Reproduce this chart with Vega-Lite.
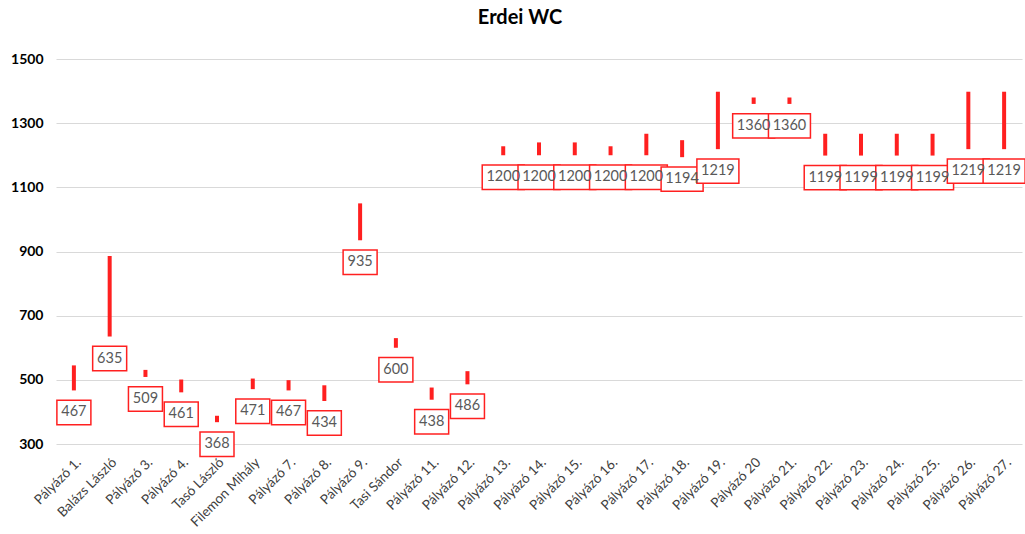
{
  "$schema": "https://vega.github.io/schema/vega-lite/v6.json",
  "autosize": "none",
  "width": 966,
  "height": 385,
  "padding": {"left": 56, "top": 59, "right": 3, "bottom": 90},
  "background": "white",
  "title": {"text": "Erdei WC", "fontSize": 20, "font": "Lato", "fontWeight": "bold", "color": "#000000", "anchor": "middle", "dx": -19, "offset": 24},
  "data": {"values": [
    {"name": "Pályázó 1.", "low": 467, "high": 545},
    {"name": "Balázs László", "low": 635, "high": 886},
    {"name": "Pályázó 3.", "low": 509, "high": 531},
    {"name": "Pályázó 4.", "low": 461, "high": 501},
    {"name": "Tasó László", "low": 368, "high": 388},
    {"name": "Filemon Mihály", "low": 471, "high": 504},
    {"name": "Pályázó 7.", "low": 467, "high": 499},
    {"name": "Pályázó 8.", "low": 434, "high": 483},
    {"name": "Pályázó 9.", "low": 935, "high": 1050},
    {"name": "Tasi Sándor", "low": 600, "high": 630},
    {"name": "Pályázó 11.", "low": 438, "high": 476},
    {"name": "Pályázó 12.", "low": 486, "high": 527},
    {"name": "Pályázó 13.", "low": 1200, "high": 1228},
    {"name": "Pályázó 14.", "low": 1200, "high": 1240},
    {"name": "Pályázó 15.", "low": 1200, "high": 1240},
    {"name": "Pályázó 16.", "low": 1200, "high": 1228},
    {"name": "Pályázó 17.", "low": 1200, "high": 1267},
    {"name": "Pályázó 18.", "low": 1194, "high": 1247},
    {"name": "Pályázó 19.", "low": 1219, "high": 1398},
    {"name": "Pályázó 20", "low": 1360, "high": 1380},
    {"name": "Pályázó 21.", "low": 1360, "high": 1380},
    {"name": "Pályázó 22.", "low": 1199, "high": 1267},
    {"name": "Pályázó 23.", "low": 1199, "high": 1267},
    {"name": "Pályázó 24.", "low": 1199, "high": 1267},
    {"name": "Pályázó 25.", "low": 1199, "high": 1267},
    {"name": "Pályázó 26.", "low": 1219, "high": 1398},
    {"name": "Pályázó 27.", "low": 1219, "high": 1398}
  ]},
  "encoding": {
    "x": {
      "field": "name", "type": "nominal", "sort": null,
      "axis": {"title": null, "labelAngle": -45, "labelFontSize": 13.5, "labelFont": "Lato", "labelColor": "#404040", "ticks": false, "domain": false, "labelPadding": 11}
    }
  },
  "layer": [
    {
      "mark": {"type": "rule", "color": "#ff2020", "strokeWidth": 4},
      "encoding": {
        "y": {
          "field": "low", "type": "quantitative",
          "scale": {"domain": [300, 1500], "nice": false, "zero": false},
          "axis": {"title": null, "values": [300, 500, 700, 900, 1100, 1300, 1500], "format": "d", "gridColor": "#d9d9d9", "domain": false, "ticks": false, "labelFontSize": 14, "labelFont": "Lato", "labelFontWeight": "bold", "labelColor": "#000000", "labelPadding": 13}
        },
        "y2": {"field": "high"}
      }
    },
    {
      "transform": [{"filter": "datum.low < 1000"}],
      "mark": {"type": "point", "shape": "M-1,-0.72L1,-0.72L1,0.72L-1,0.72Z", "size": 1156, "filled": true, "fill": "white", "stroke": "#ff2020", "strokeWidth": 1.5, "opacity": 1, "yOffset": 22},
      "encoding": {"y": {"field": "low", "type": "quantitative"}}
    },
    {
      "transform": [{"filter": "datum.low >= 1000"}],
      "mark": {"type": "point", "shape": "M-1,-0.58L1,-0.58L1,0.58L-1,0.58Z", "size": 1764, "filled": true, "fill": "white", "stroke": "#ff2020", "strokeWidth": 1.5, "opacity": 1, "yOffset": 22},
      "encoding": {"y": {"field": "low", "type": "quantitative"}}
    },
    {
      "mark": {"type": "text", "font": "Lato", "fontSize": 14.5, "color": "#595959", "yOffset": 22, "baseline": "middle"},
      "encoding": {"y": {"field": "low", "type": "quantitative"}, "text": {"field": "low", "type": "quantitative"}}
    }
  ],
  "config": {"view": {"stroke": null}}
}
